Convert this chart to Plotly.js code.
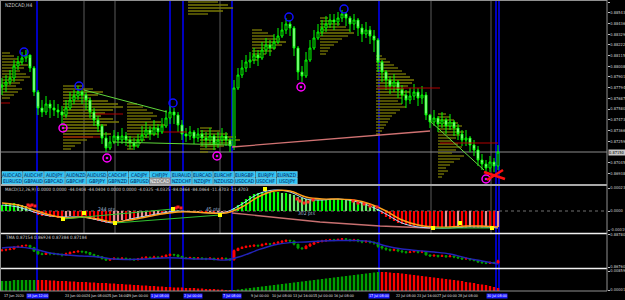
<!DOCTYPE html>
<html><head><meta charset="utf-8">
<script src="https://cdn.plot.ly/plotly-3.0.1.min.js"></script>
<style>html,body{margin:0;padding:0;background:#000;overflow:hidden}#chart{width:625px;height:300px}</style>
</head><body><div id="chart"></div>
<script>
// ---------------- DATA ----------------
const symbolTitle = 'NZDCAD,H4';
const firstOpen = 0.8780;
const closes = [0.8782,0.8785,0.8789,0.8801,0.8805,0.8809,0.8812,0.8799,0.8775,0.8759,
0.8755,0.8763,0.8759,0.8757,0.8755,0.8752,0.8759,0.8767,0.8771,0.8775,
0.8772,0.8767,0.8755,0.8747,0.8741,0.8729,0.8719,0.8725,0.8731,0.8727,
0.8731,0.8727,0.8724,0.8721,0.8727,0.8732,0.8737,0.8733,0.8739,0.8735,
0.8741,0.8749,0.8755,0.8752,0.8742,0.8733,0.8731,0.8735,0.8729,0.8733,
0.8729,0.8727,0.8731,0.8723,0.8727,0.8731,0.8727,0.8721,0.8779,0.8792,
0.8799,0.8805,0.8807,0.8812,0.8809,0.8817,0.8822,0.8819,0.8825,0.8831,
0.8837,0.8843,0.8839,0.8819,0.8795,0.8791,0.8807,0.8819,0.8829,0.8835,
0.8839,0.8843,0.8847,0.8845,0.8849,0.8853,0.8849,0.8843,0.8847,0.8839,
0.8833,0.8837,0.8831,0.8827,0.8805,0.8795,0.8787,0.8781,0.8785,0.8777,
0.8772,0.8767,0.8771,0.8775,0.8769,0.8772,0.8752,0.8745,0.8749,0.8743,
0.8747,0.8741,0.8745,0.8739,0.8733,0.8727,0.8729,0.8722,0.8717,0.8707,
0.8703,0.8699,0.8705,0.8701,0.8715];
const highs = [0.8789,0.8792,0.8797,0.8807,0.8811,0.8815,0.8817,0.8809,0.8801,0.8777,
0.8767,0.8771,0.8767,0.8767,0.8763,0.8761,0.8767,0.8775,0.8777,0.8781,
0.8777,0.8775,0.8769,0.8759,0.8751,0.8743,0.8735,0.8731,0.8737,0.8735,
0.8739,0.8735,0.8731,0.8729,0.8733,0.8741,0.8745,0.8741,0.8747,0.8743,
0.8749,0.8757,0.8761,0.8759,0.8755,0.8747,0.8739,0.8741,0.8737,0.8739,
0.8737,0.8735,0.8739,0.8733,0.8735,0.8739,0.8735,0.8729,0.8787,0.8799,
0.8807,0.8812,0.8815,0.8819,0.8817,0.8825,0.8829,0.8827,0.8833,0.8839,
0.8845,0.8849,0.8847,0.8841,0.8821,0.8801,0.8815,0.8827,0.8837,0.8843,
0.8847,0.8851,0.8853,0.8853,0.8855,0.8857,0.8855,0.8851,0.8853,0.8849,
0.8843,0.8845,0.8841,0.8837,0.8829,0.8807,0.8797,0.8791,0.8793,0.8787,
0.8782,0.8777,0.8779,0.8783,0.8779,0.8781,0.8775,0.8753,0.8757,0.8751,
0.8755,0.8749,0.8753,0.8747,0.8743,0.8737,0.8737,0.8731,0.8727,0.8721,
0.8713,0.8707,0.8711,0.8709,0.8722];
const lows = [0.8772,0.8775,0.8782,0.8785,0.8797,0.8802,0.8805,0.8795,0.8771,0.8752,
0.8750,0.8752,0.8749,0.8751,0.8749,0.8741,0.8749,0.8757,0.8763,0.8767,
0.8763,0.8757,0.8749,0.8741,0.8735,0.8723,0.8715,0.8717,0.8723,0.8721,
0.8723,0.8721,0.8718,0.8717,0.8719,0.8725,0.8729,0.8727,0.8731,0.8729,
0.8733,0.8739,0.8743,0.8743,0.8735,0.8727,0.8725,0.8727,0.8723,0.8725,
0.8721,0.8719,0.8723,0.8717,0.8719,0.8723,0.8721,0.8715,0.8717,0.8777,
0.8789,0.8795,0.8799,0.8803,0.8801,0.8807,0.8813,0.8811,0.8817,0.8823,
0.8829,0.8833,0.8831,0.8811,0.8787,0.8785,0.8789,0.8805,0.8817,0.8827,
0.8831,0.8835,0.8839,0.8837,0.8841,0.8845,0.8841,0.8835,0.8837,0.8831,
0.8825,0.8829,0.8823,0.8815,0.8795,0.8785,0.8777,0.8773,0.8775,0.8769,
0.8763,0.8759,0.8763,0.8767,0.8761,0.8763,0.8747,0.8739,0.8741,0.8735,
0.8739,0.8733,0.8737,0.8731,0.8727,0.8721,0.8721,0.8715,0.8711,0.8701,
0.8697,0.8694,0.8695,0.8695,0.8697];
const currentPrice = 0.87150;
const priceTicks = [0.88650,0.88543,0.88436,0.88329,0.88222,0.88115,0.88008,0.87901,0.87794,0.87687,0.87580,0.87473,0.87366,0.87259,0.87045,0.86938];

// MACD histogram (points) and lines sampled every 4 bars
const macdHist = [6,7,8,8,7,6,5,3,
-2,-4,
-5,-5,-6,-6,-7,-7,-6,-5,-5,-5,-6,-7,-8,-9,-10,-11,-12,-12,-11,
-10,-9,-9,-8,-8,-7,-6,-5,-5,-4,-3,-3,-2,-1,
1,0.5,-1,-1,-1,-1.5,-1,-1.5,-1.5,-1,-2,-1.5,-1,-1,-1.5,
3,6,9,12,15,17,18,19,19,19,19,19,18,18,17,16,14,13,12,11,11,11,11,11,12,12,12,12,11,11,10,10,9,8,7,5,2,
-3,-6,-8,-10,-12,-13,-14,-15,-15,-15,-16,-17,-17,-17,-17,-17,-16,-17,-17,-16,-17,-17,-16,-17,-17,-17,-16,-17,-17,-16];
const lineBars = [0,4,8,12,16,20,24,28,32,36,40,44,48,52,56,60,64,68,72,76,80,84,88,92,96,100,104,108,112,116,120,124];
const macdSignal = [8,6,1,-4,-7,-6,-8,-11,-9,-6,-3,-1,-1,-2,-2,4,14,20,20,14,12,12,11,7,0,-9,-14,-16,-16,-15,-15,-16];
const macdMain = [6,4,-1,-5,-6,-6,-9,-12,-8,-5,-2,0,-1,-2,-1,7,17,21,19,12,11,12,10,5,-3,-12,-16,-17,-17,-16,-16,-17];
const macdSalmonBars = [57.5,79.5,94.5,107];
const macdSalmonVals = [-2,-11,-15,-17];
const divergenceBars = [[15.25,42.75],[28.25,54.5],[107.75,122.5]];
const divergenceVals = [[-8,2],[-12,-4],[-17,-17]];
const yellowDotBars = [15.25,20.5,28.25,42.75,54.5,65.75,107.75,114.5,122.5];
const yellowDotVals = [-8,-2,-12,2,-4,22,-17,-12,-17];
const redDotBars = [6.5,7,7.5,8.25,43.5,44,44.75,73.75,74.5,75.5,76.5,77.75,87.75,89,90.5,92,93.75];
const redDotVals = [6,5,6,5,3,4,3,12,10,8,9,11,10,8,7,5,4];
const ptsLabelBars = [23.5,50.5,73.5];
const ptsLabelVals = [2,2,-2];
const ptsLabelText = ['244 pts','45 pts','302 pts'];
const macdHeader = 'MACD(12,26,9) 0.0000 0.0000 -44.0404 -44.0404 0.0000 0.0000 -4.0325 -4.0325 -84.0464 -84.0464 -11.4703 -11.4703';

// TMA window
const tmaLine = [0.8795,0.8801,0.8789,0.8764,0.8751,0.8745,0.8739,0.8726,0.8723,0.8726,0.8733,0.8733,0.8726,0.8726,0.8720,0.8745,0.8783,0.8814,0.8829,0.8833,0.8839,0.8842,0.8842,0.8836,0.8808,0.8789,0.8779,0.8770,0.8758,0.8733,0.8714,0.8695];
const tmaHeader = 'TMA 0.87154 0.86924 0.87384 0.87184';

// trend strength histogram (signed: + green, - red)
const trendHist = [10,10,10,11,11,11,11,11,11,
-11,-11,-11,-10.5,-10.5,-10,-10,-10,-9.5,-9.5,-9,-9,-9,-8.5,-8.5,-8,-8,-8,-7.5,-7.5,-7,-7,-6.5,-6.5,-6,-6,-5.5,-5.5,-5,-5,-4.5,-4.5,-4,-4,-3.5,-3.5,-3.5,-3,-3,-3,-2.5,-2.5,-2,-2,-2,-1.5,-1.5,-1,-1,
1,1.5,2,2.5,3,3.5,4,4.5,5,5.5,6,6.5,7,7.5,8,8.5,9,9.5,10,10.5,11,11.5,12,12.5,13,13.5,14,14.5,15,15.5,16,16.5,17,17.5,18,18.5,19,
-19,-19,-18.5,-18,-18,-17.5,-17,-16.5,-16,-15.5,-15,-14.5,-14,-13.5,-13,-12.5,-12,-11.5,-11,-10.5,-10,-9,-8.5,-8,-7,-6.5,-6,-5,-4,-3];

// markers & studies in price window
const swingHighBars = [5.5,19.25,42.75,71.75,85.5];
const swingHighPrices = [0.8815,0.8781,0.8764,0.8850,0.8858];
const swingLowBars = [15.25,26.25,53.75,74.75,121];
const swingLowPrices = [0.8739,0.8709,0.8711,0.8780,0.8688];
const trendBars = [[20.5,41.25],[27.75,57.5],[107,120.5]];
const trendPrices = [[0.8777,0.8755],[0.8725,0.8722],[0.8746,0.8697]];
const salmonBars = [57.5,107];
const salmonPrices = [0.8720,0.8736];
const pocBars = [[-0.5,2],[15.25,24.5],[23.25,30.25],[40.25,46.25],[93.75,109.5],[109.5,124]];
const pocPrices = [0.8764,0.8730,0.8753,0.8735,0.8779,0.8724];
const crossBars = [[120.5,125.75],[121.25,125.25]];
const crossPrices = [[0.8695,0.8688],[0.8687,0.8697]];

// volume profiles: anchor bar, price levels, lengths (bars)
const profAnchors = [0,15.25,31.25,46.5,49.5,62.5,79.5,93.5,109];
const profLevels = [
 [0.8814,0.8811,0.8808,0.8805,0.8802,0.8799,0.8796,0.8793,0.8790,0.8787,0.8784,0.8781,0.8778,0.8775,0.8772,0.8769],
 [0.8781,0.8778,0.8775,0.8772,0.8769,0.8766,0.8763,0.8760,0.8757,0.8754,0.8751,0.8748,0.8745,0.8742,0.8739,0.8736,0.8733,0.8730,0.8727,0.8724,0.8721,0.8718],
 [0.8763,0.8760,0.8757,0.8754,0.8751,0.8748,0.8745,0.8742,0.8739,0.8736,0.8733,0.8730,0.8727,0.8724,0.8721,0.8718],
 [0.8865,0.8862,0.8859,0.8856,0.8853],
 [0.8739,0.8736,0.8733,0.8730,0.8727,0.8724,0.8721,0.8718,0.8715],
 [0.8837,0.8834,0.8831,0.8828,0.8825,0.8822,0.8819,0.8816,0.8813,0.8810,0.8807],
 [0.8849,0.8846,0.8843,0.8840,0.8837,0.8834,0.8831,0.8828,0.8825,0.8822,0.8819,0.8816,0.8813],
 [0.8811,0.8808,0.8805,0.8802,0.8799,0.8796,0.8793,0.8790,0.8787,0.8784,0.8781,0.8778,0.8775,0.8772,0.8769,0.8766,0.8763,0.8760,0.8757,0.8754,0.8751,0.8748,0.8745,0.8742,0.8739,0.8736,0.8733],
 [0.8753,0.8750,0.8747,0.8744,0.8741,0.8738,0.8735,0.8732,0.8729,0.8726,0.8723,0.8720,0.8717,0.8714,0.8711,0.8708,0.8705,0.8702,0.8699,0.8696,0.8693,0.8690]
];
const profLengths = [
 [2,3,4,5,6.5,5.5,4.5,6,7,5.5,4.5,3.5,5,4,3,2],
 [5,7.5,10,8.75,7,11.25,13.75,15,12.5,10.5,9.5,12.5,14,11,9,10,12,7.5,6,4.5,3,2],
 [2.5,4,5,6.5,7.5,6,8.5,9.5,7.5,6.5,8,5.5,4.5,3.5,2.5,1.5],
 [7.5,10,11.25,8.75,5],
 [3,5,7,9,10,8,6,4,2],
 [2.5,4,5.5,7,8.5,7.5,6,5,3.5,2.5,1.5],
 [2,3.5,5,6.5,7.5,8.5,7,5.5,4.5,3.5,2.5,2,1.5],
 [1.5,2.5,3.5,4.5,5.5,6.5,7.5,8.5,9.5,9,8,7,8.5,7.5,6.5,5.5,6.5,7.5,6,5,4,3.5,3,2.5,2,1.5,1],
 [2,3,4,5,6,5,6.5,5.5,4.5,3.5,5,6,4.5,3.5,6.5,5.5,4,3,2,2.5,1.5,1]
];

// vertical event lines (bar positions)
const blueLineBars = [8.75,42,45.25,57.5,94.25,123.5,124.25];
const grayLineBars = [20.5,28.25,54.5,107.25,122.25];

// time axis
const timeLabelBars = [0,5,10.25,15.25,20.5,25.75,30.75,36,41.25,46.25,51.5,56.75,61.75,67,72.25,77.25,82.5,87.75,92.75,98,103.25,108.25,113.5,118.75];
const timeLabels = ['17 Jun 2020','18 Jun 08:00','19 Jun 16:00','23 Jun 00:00','24 Jun 08:00','25 Jun 16:00','29 Jun 00:00','30 Jun 08:00','1 Jul 16:00','3 Jul 00:00','6 Jul 08:00','7 Jul 16:00','9 Jul 00:00','10 Jul 08:00','13 Jul 16:00','15 Jul 00:00','16 Jul 08:00','17 Jul 16:00','21 Jul 00:00','22 Jul 08:00','23 Jul 16:00','27 Jul 00:00','28 Jul 08:00','29 Jul 16:00'];
const markedTimeBars = [8.75,42,45.25,57.5,94.25,123.75];
const markedTimeLabels = ['18 Jun 12:00','1 Jul 08:00','2 Jul 00:00','7 Jul 08:00','17 Jul 08:00','30 Jul 08:00'];
const markedAnchors = ['center','right','left','center','center','center'];

// symbol buttons
const buttonsRow1 = ['AUDCAD','AUDCHF','AUDJPY','AUDNZD','AUDUSD','CADCHF','CADJPY','CHFJPY','EURAUD','EURCAD','EURCHF','EURGBP','EURJPY','EURNZD'];
const buttonsRow2 = ['EURUSD','GBPAUD','GBPCAD','GBPCHF','GBPJPY','GBPNZD','GBPUSD','NZDCAD','NZDCHF','NZDJPY','NZDUSD','USDCAD','USDCHF','USDJPY'];
const activeButton = 'NZDCAD';

// ---------------- BUILD ----------------
const W = 625, H = 300;
const fx = p => p / W;
const fy = p => 1 - p / H;
const barPx = b => 2 + 4 * b;
const idx = closes.map((_, i) => i);
const opens = closes.map((c, i) => i === 0 ? firstOpen : closes[i - 1]);
const FONT = 'Liberation Sans, Arial, sans-serif';
const NARROW = 'Liberation Sans Narrow, DejaVu Sans Condensed, Arial Narrow, sans-serif';

const traces = [];
profAnchors.forEach((a, k) => {
  traces.push({type:'bar', orientation:'h', y: profLevels[k], x: profLengths[k], base: a, width: 0.00013,
    marker:{color:'#7a7a06', line:{width:0}}, xaxis:'x', yaxis:'y', hoverinfo:'skip'});
});
pocBars.forEach((b, k) => traces.push({type:'scatter', mode:'lines', x:b, y:[pocPrices[k], pocPrices[k]],
  line:{color:'#b00000', width:1}, xaxis:'x', yaxis:'y', hoverinfo:'skip'}));
traces.push({type:'scatter', mode:'lines', x:salmonBars, y:salmonPrices, line:{color:'#d07272', width:1.3}, hoverinfo:'skip'});
trendBars.forEach((b, k) => traces.push({type:'scatter', mode:'lines', x:b, y:trendPrices[k], line:{color:'#5fd83a', width:1}, hoverinfo:'skip'}));
traces.push({type:'candlestick', x: idx, open: opens, high: highs, low: lows, close: closes,
  increasing:{line:{color:'#00ff00', width:1}, fillcolor:'#000000'},
  decreasing:{line:{color:'#00ff00', width:1}, fillcolor:'#e8ffe8'},
  whiskerwidth:0, hoverinfo:'skip', xaxis:'x', yaxis:'y'});
traces.push({type:'scatter', mode:'markers', x:swingHighBars, y:swingHighPrices,
  marker:{symbol:'circle-open', size:8, color:'#1010ff', line:{width:1.5}}, hoverinfo:'skip'});
traces.push({type:'scatter', mode:'markers', x:swingLowBars, y:swingLowPrices,
  marker:{symbol:'circle-open-dot', size:8, color:'#ff00ff', line:{width:1.5}}, hoverinfo:'skip'});
crossBars.forEach((b, k) => traces.push({type:'scatter', mode:'lines', x:b, y:crossPrices[k], line:{color:'#ff1010', width:2.5}, hoverinfo:'skip'}));

// MACD
const histColors = macdHist.map((v, i) => {
  const p = i ? macdHist[i - 1] : v;
  if (v >= 0) return v >= p ? '#00ff00' : '#66ee66';
  return v <= p ? '#ff0000' : '#f09090';
});
traces.push({type:'bar', x: idx, y: macdHist, width: 0.55, marker:{color: histColors, line:{width:0}}, xaxis:'x', yaxis:'y2', hoverinfo:'skip'});
traces.push({type:'scatter', mode:'lines', x: macdSalmonBars, y: macdSalmonVals, line:{color:'#c87070', width:1.3}, xaxis:'x', yaxis:'y2', hoverinfo:'skip'});
traces.push({type:'scatter', mode:'lines', x: lineBars, y: macdMain, line:{color:'#a8d8ff', width:1, shape:'spline'}, xaxis:'x', yaxis:'y2', hoverinfo:'skip'});
traces.push({type:'scatter', mode:'lines', x: lineBars, y: macdSignal, line:{color:'#ff9f1a', width:1.4, shape:'spline'}, xaxis:'x', yaxis:'y2', hoverinfo:'skip'});
divergenceBars.forEach((b, k) => traces.push({type:'scatter', mode:'lines', x:b, y:divergenceVals[k], line:{color:'#30c030', width:1.2}, xaxis:'x', yaxis:'y2', hoverinfo:'skip'}));
traces.push({type:'scatter', mode:'markers', x: redDotBars, y: redDotVals, marker:{color:'#ff2020', size:3, symbol:'square'}, xaxis:'x', yaxis:'y2', hoverinfo:'skip'});
traces.push({type:'scatter', mode:'markers', x: yellowDotBars, y: yellowDotVals, marker:{color:'#ffff00', size:4, symbol:'square'}, xaxis:'x', yaxis:'y2', hoverinfo:'skip'});

// TMA window
traces.push({type:'candlestick', x: idx, open: opens, high: highs, low: lows, close: closes,
  increasing:{line:{color:'#ff0000', width:1}, fillcolor:'#ff0000'},
  decreasing:{line:{color:'#00a000', width:1}, fillcolor:'#00a000'},
  whiskerwidth:0, hoverinfo:'skip', xaxis:'x', yaxis:'y3'});
traces.push({type:'scatter', mode:'lines', x: lineBars, y: tmaLine, line:{color:'#2323b8', width:1.4, shape:'spline'}, xaxis:'x', yaxis:'y3', hoverinfo:'skip'});

// trend histogram
traces.push({type:'bar', x: idx, y: trendHist.map(Math.abs), width: 0.6,
  marker:{color: trendHist.map(v => v >= 0 ? '#00a000' : '#ff0000'), line:{width:0}}, xaxis:'x', yaxis:'y4', hoverinfo:'skip'});

// ---------------- SHAPES & ANNOTATIONS ----------------
const shapes = [];
const ann = [];
grayLineBars.forEach(b => shapes.push({type:'line', xref:'x', yref:'paper', x0:b, x1:b, y0:fy(233), y1:fy(1), line:{color:'#5a5a5a', width:1}, layer:'below'}));
blueLineBars.forEach(b => shapes.push({type:'line', xref:'x', yref:'paper', x0:b, x1:b, y0:fy(291), y1:fy(1), line:{color:'#0000ff', width:1.5}, layer:'below'}));
shapes.push({type:'line', xref:'paper', yref:'y', x0:fx(1), x1:fx(607), y0:currentPrice, y1:currentPrice, line:{color:'#8c8c8c', width:1}, layer:'below'});
shapes.push({type:'line', xref:'paper', yref:'y2', x0:fx(1), x1:fx(607), y0:0, y1:0, line:{color:'#707070', width:1, dash:'dot'}, layer:'below'});
shapes.push({type:'line', xref:'paper', yref:'paper', x0:0, x1:fx(607), y0:fy(185), y1:fy(185), line:{color:'#a8a8a8', width:2}});
shapes.push({type:'line', xref:'paper', yref:'paper', x0:0, x1:fx(607), y0:fy(233.5), y1:fy(233.5), line:{color:'#f0f0f0', width:1.5}});
shapes.push({type:'line', xref:'paper', yref:'paper', x0:0, x1:fx(607), y0:fy(268.5), y1:fy(268.5), line:{color:'#f0f0f0', width:1.5}});
shapes.push({type:'line', xref:'paper', yref:'paper', x0:0, x1:fx(607), y0:fy(291), y1:fy(291), line:{color:'#909090', width:1}});
shapes.push({type:'line', xref:'paper', yref:'paper', x0:0, x1:fx(607), y0:fy(0.5), y1:fy(0.5), line:{color:'#909090', width:1}});
shapes.push({type:'line', xref:'paper', yref:'paper', x0:fx(0.5), x1:fx(0.5), y0:fy(291), y1:fy(0), line:{color:'#909090', width:1}});
shapes.push({type:'line', xref:'paper', yref:'paper', x0:fx(607), x1:fx(607), y0:fy(291), y1:fy(0), line:{color:'#909090', width:1}});

// buttons
const bw = 21.15;
[buttonsRow1, buttonsRow2].forEach((row, r) => {
  const y0 = r === 0 ? 171.5 : 178, y1 = r === 0 ? 177.5 : 184;
  row.forEach((name, k) => {
    const x0 = 2 + k * bw, x1 = x0 + bw - 0.8;
    const active = name === activeButton;
    shapes.push({type:'rect', xref:'paper', yref:'paper', x0:fx(x0), x1:fx(x1), y0:fy(y1), y1:fy(y0),
      fillcolor: active ? '#8a8a8a' : '#2fc4f4', line:{color: active ? '#b0b0b0' : '#8fe4ff', width:0.5}});
    ann.push({xref:'paper', yref:'paper', x:fx((x0 + x1) / 2), y:fy((y0 + y1) / 2), text:name, showarrow:false,
      xanchor:'center', yanchor:'middle', font:{family:NARROW, size:5, color: active ? '#ffffff' : '#08205a'}});
  });
});

ann.push({xref:'paper', yref:'paper', x:fx(3), y:fy(5), text:symbolTitle, showarrow:false, xanchor:'left', yanchor:'middle', font:{family:NARROW, size:5, color:'#d0d0d0'}});
ann.push({xref:'paper', yref:'paper', x:fx(3), y:fy(189), text:macdHeader, showarrow:false, xanchor:'left', yanchor:'middle', font:{family:NARROW, size:4.5, color:'#d0d0d0'}});
ann.push({xref:'paper', yref:'paper', x:fx(3), y:fy(237.5), text:tmaHeader, showarrow:false, xanchor:'left', yanchor:'middle', font:{family:NARROW, size:4.5, color:'#d0d0d0'}});
ptsLabelBars.forEach((b, k) => ann.push({xref:'x', yref:'y2', x:b, y:ptsLabelVals[k], text:ptsLabelText[k], showarrow:false, xanchor:'left', yanchor:'middle', font:{family:NARROW, size:5, color:'#9fb4d8'}}));
ann.push({xref:'paper', yref:'y', x:fx(608), y:currentPrice, text:currentPrice.toFixed(5), showarrow:false, xanchor:'left', yanchor:'middle', bgcolor:'#c8c8c8', borderpad:0, font:{family:NARROW, size:4, color:'#000000'}});
// time labels: regular ones skipped where a marked (line) label covers them
const LBLW = 18;
const markedSpan = markedTimeBars.map((b, k) => {
  const m = barPx(b), a = markedAnchors[k];
  return a === 'right' ? [m - LBLW, m] : a === 'left' ? [m, m + LBLW] : [m - LBLW / 2, m + LBLW / 2];
});
timeLabelBars.forEach((b, k) => {
  const px = barPx(b);
  const covered = markedSpan.some(s => px + LBLW > s[0] && px < s[1]);
  if (covered) return;
  ann.push({xref:'x', yref:'paper', x:b, y:fy(296), text:timeLabels[k], showarrow:false, xanchor:'left', yanchor:'middle', font:{family:NARROW, size:3.7, color:'#e0e0e0'}});
});
markedTimeBars.forEach((b, k) => ann.push({xref:'x', yref:'paper', x:b, y:fy(296), text:markedTimeLabels[k], showarrow:false, xanchor:markedAnchors[k], yanchor:'middle', bgcolor:'#1a1aff', borderpad:0, font:{family:NARROW, size:3.7, color:'#ffffff'}}));

const axBase = {showgrid:false, zeroline:false, fixedrange:true};
const yRight = (extra) => Object.assign({}, axBase, {side:'right', anchor:'x', ticks:'outside', ticklen:1.5, tickcolor:'#c0c0c0',
  tickfont:{family:NARROW, size:4, color:'#d0d0d0'}, showline:false}, extra);

const layout = {
  width: W, height: H, paper_bgcolor:'#000000', plot_bgcolor:'#000000',
  margin:{l:0, r:0, t:0, b:0}, showlegend:false, barmode:'overlay',
  font:{family:FONT, size:5, color:'#ffffff'},
  xaxis: Object.assign({}, axBase, {domain:[fx(1), fx(607)], range:[-0.25, 151.25], anchor:'y4', showticklabels:false, ticks:'', showline:false, rangeslider:{visible:false}}),
  yaxis: yRight({domain:[fy(184), fy(1)], range:[0.8683, 0.8866], tickvals: priceTicks, ticktext: priceTicks.map(v => v.toFixed(5))}),
  yaxis2: yRight({domain:[fy(233), fy(186)], range:[-22, 25], tickvals:[23, 0, -19], ticktext:['0.00023','0.0000','-0.00019']}),
  yaxis3: yRight({domain:[fy(268), fy(234)], range:[0.8670, 0.8883], tickvals:[0.8878, 0.8676], ticktext:['0.88780','0.86760']}),
  yaxis4: yRight({domain:[fy(291), fy(269)], range:[0, 22], tickvals:[20, 1], ticktext:['0.00859','0.00001']}),
  shapes: shapes, annotations: ann
};

Plotly.newPlot('chart', traces, layout, {staticPlot:true, displayModeBar:false});
</script>
</body></html>
